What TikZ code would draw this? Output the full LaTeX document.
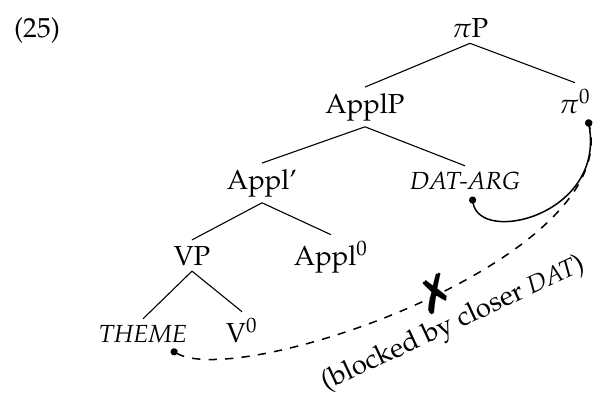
\documentclass[tikz,border=0pt]{standalone}
\usepackage[T1]{fontenc}
\usepackage{mathpazo}
\usepackage{pifont}
\usetikzlibrary{arrows.meta}
\newcommand{\argtxt}[1]{{\small\itshape #1}}
\begin{document}
\begin{tikzpicture}[x=1.278cm,y=1.278cm,
	lbl/.style={anchor=base,inner sep=2pt},
	dep/.style={{Circle[length=2.6pt]}-{Circle[length=2.6pt]},line width=.55pt}]
	\useasboundingbox (0,0) rectangle (5.97,4);
	\node[lbl] at (.37,3.63) (ex) {(25)};
	\node[lbl] at (4.70,3.63) (piP) {$\pi$P};
	\node[lbl] at (3.65,2.87) (ApplP) {ApplP};
	\node[lbl] at (5.75,2.87) (pi0) {$\pi^0$};
	\node[lbl] at (2.62,2.11) (Applbar) {Appl'};
	\node[lbl] at (4.65,2.11) (dat) {\argtxt{DAT-ARG}};
	\node[lbl] at (1.92,1.35) (VP) {VP};
	\node[lbl] at (3.31,1.35) (Appl0) {Appl$^0$};
	\node[lbl] at (1.43,.58) (theme) {\argtxt{THEME}};
	\node[lbl] at (2.42,.58) (V0) {V$^0$};
	\coordinate (t) at (1.71,.50);
	\coordinate (d) at (4.72,2.035);
	\coordinate (p) at (5.88,2.805);
	\draw (piP.south) -- (ApplP.north);
	\draw (piP.south) -- (pi0.north);
	\draw (ApplP.south) -- (Applbar.north);
	\draw (ApplP.south) -- (dat.north);
	\draw (Applbar.south) -- (VP.north);
	\draw (Applbar.south) -- (Appl0.north);
	\draw (VP.south) -- (theme.north);
	\draw (VP.south) -- (V0.north);
	\draw[dep] (d) .. controls (4.80,1.55) and (6.05,1.85) .. (p);
	\draw[dep,dashed] (t) .. controls (2.40,.10) and (6.20,1.40) .. (p)
		node[pos=.53,sloped,inner sep=0pt] (no) {\LARGE\ding{55}};
	\node[anchor=base,rotate=25] at (4.56,.70) (blk) {(blocked by closer \argtxt{DAT})};
\end{tikzpicture}
\end{document}
